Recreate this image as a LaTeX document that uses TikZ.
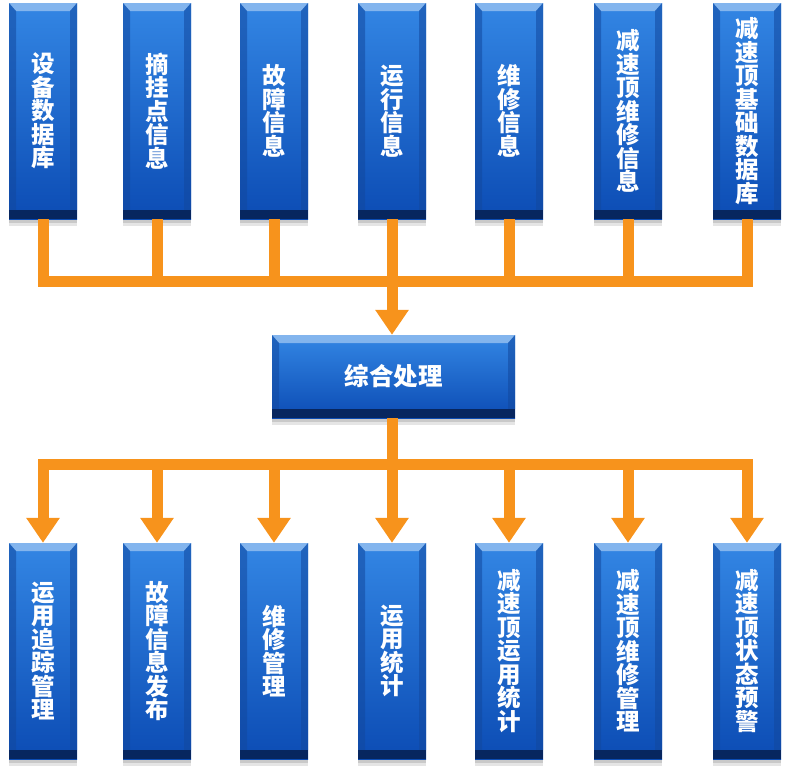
\documentclass[tikz,border=0pt]{standalone}
\usepackage{fontspec}
\newfontfamily\cjk{Noto Sans CJK SC}
\usetikzlibrary{arrows.meta,shadows,calc}
\definecolor{boxtop}{HTML}{3386E4}
\definecolor{boxbot}{HTML}{0C4CB4}
\definecolor{bevtop}{HTML}{92BEF0}
\definecolor{bevside}{HTML}{12489E}
\definecolor{band}{HTML}{07265F}
\definecolor{flow}{HTML}{F7931C}
\newcommand\vstack[1]{\parbox[c]{30pt}{\centering #1}}
\tikzset{
  bluebox/.style={rectangle, inner sep=0pt, top color=boxtop, bottom color=boxbot,
    text=white, font=\cjk\bfseries\fontsize{23.5}{23.5}\selectfont,
    preaction={fill=black, opacity=.10, transform canvas={yshift=-7pt}},
    preaction={fill=black, opacity=.12, transform canvas={yshift=-4pt}},
    path picture={
      \fill[bevtop, opacity=.85] (path picture bounding box.north west) -- (path picture bounding box.north east)
        -- ++(-7pt,-8pt) -- ($(path picture bounding box.north west)+(7pt,-8pt)$) -- cycle;
      \fill[bevside, opacity=.55] (path picture bounding box.north west) -- ++(7pt,-8pt)
        -- ($(path picture bounding box.south west)+(7pt,9pt)$) -- ($(path picture bounding box.south west)+(0pt,9pt)$) -- cycle;
      \fill[bevside, opacity=.55] (path picture bounding box.north east) -- ++(-7pt,-8pt)
        -- ($(path picture bounding box.south east)+(-7pt,9pt)$) -- ($(path picture bounding box.south east)+(0pt,9pt)$) -- cycle;
      \fill[band] (path picture bounding box.south west) rectangle ($(path picture bounding box.south east)+(0pt,9pt)$);
    }},
  vbox/.style={bluebox, minimum width=68pt, minimum height=216pt},
  hbox/.style={bluebox, minimum width=243pt, minimum height=83pt, font=\cjk\bfseries\fontsize{24.5}{26}\selectfont},
  flowline/.style={draw=flow, line width=11pt},
  flowarrow/.style={flowline, -{Triangle[width=32pt,length=25pt]}}
}
\begin{document}
\begin{tikzpicture}[x=1pt,y=-1pt]
\useasboundingbox (0,0) rectangle (790,774);
% top row
\node[vbox] (t1) at (43,111)  {\vstack{设\\备\\数\\据\\库}};
\node[vbox] (t2) at (157,111) {\vstack{摘\\挂\\点\\信\\息}};
\node[vbox] (t3) at (274,111) {\vstack{故\\障\\信\\息}};
\node[vbox] (t4) at (392,111) {\vstack{运\\行\\信\\息}};
\node[vbox] (t5) at (509,111) {\vstack{维\\修\\信\\息}};
\node[vbox] (t6) at (628,111) {\vstack{减\\速\\顶\\维\\修\\信\\息}};
\node[vbox] (t7) at (747,111) {\vstack{减\\速\\顶\\基\\础\\数\\据\\库}};
% centre
\node[hbox] (c) at (393.5,376.5) {综合处理};
% bottom row
\node[vbox] (b1) at (43,651)  {\vstack{运\\用\\追\\踪\\管\\理}};
\node[vbox] (b2) at (157,651) {\vstack{故\\障\\信\\息\\发\\布}};
\node[vbox] (b3) at (274,651) {\vstack{维\\修\\管\\理}};
\node[vbox] (b4) at (392,651) {\vstack{运\\用\\统\\计}};
\node[vbox] (b5) at (509,651) {\vstack{减\\速\\顶\\运\\用\\统\\计}};
\node[vbox] (b6) at (628,651) {\vstack{减\\速\\顶\\维\\修\\管\\理}};
\node[vbox] (b7) at (747,651) {\vstack{减\\速\\顶\\状\\态\\预\\警}};
% connectors
\coordinate (tbar) at (392,281.5);
\coordinate (bbar) at (392,464.5);
\foreach \i in {1,2,3,5,6,7} \draw[flowline] (t\i.south) |- (tbar);
\draw[flowarrow] (t4.south) -- (t4.south |- c.north);
\draw[flowline] (c.south -| bbar) -- (bbar);
\foreach \i in {1,2,3,5,6,7} \draw[flowarrow] (bbar) -| (b\i.north);
\draw[flowarrow] (bbar) -- (b4.north);
\end{tikzpicture}
\end{document}
